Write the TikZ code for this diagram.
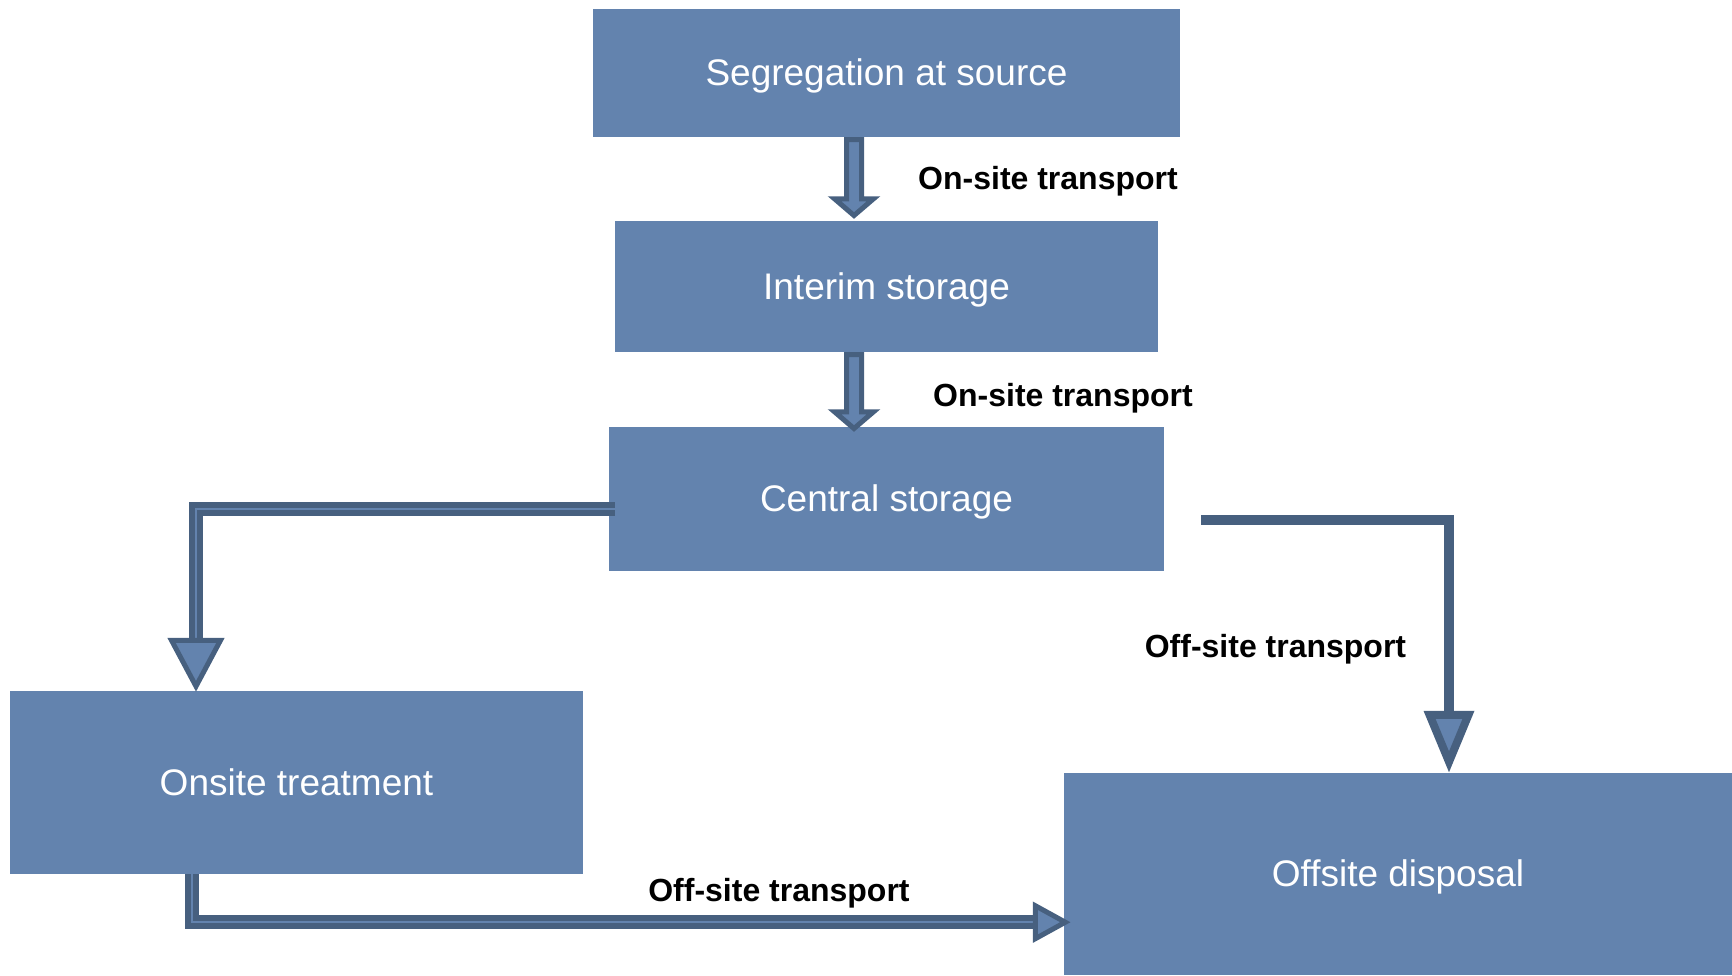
\documentclass[tikz,border=0pt]{standalone}
\usepackage{fontspec}
\setmainfont{Liberation Sans}
\usetikzlibrary{calc}
\definecolor{boxfill}{RGB}{99,131,174}
\definecolor{arrowdark}{RGB}{71,96,127}
\tikzset{
  box/.style={rectangle, fill=boxfill, inner sep=0pt, text=white,
    text height=30pt, text depth=5pt,
    font=\fontsize{37}{44}\selectfont},
  lbl/.style={inner sep=0pt, text=black, text height=27pt, text depth=4pt,
    font=\fontsize{32}{38}\selectfont\bfseries},
  blockarrow/.style={draw=arrowdark, fill=boxfill, line width=5pt, miter limit=20},
  dblline/.style={draw=arrowdark, line width=6pt, double=boxfill, double distance=2pt},
  headtri/.style={draw=arrowdark, fill=boxfill, line width=5pt, miter limit=20},
  solidline/.style={draw=arrowdark, line width=10pt},
  headthick/.style={draw=arrowdark, fill=boxfill, line width=8pt, miter limit=20}
}
\newcommand\blockdown[2]{%
  \path[blockarrow] let \p1=(#1), \p2=(#2) in
    (\x1-7.5pt,\y1-2.5pt) -- (\x1-7.5pt,\y2+20pt) -- (\x1-19.5pt,\y2+20pt)
    -- (\x1,\y2+3.3pt) -- (\x1+19.5pt,\y2+20pt) -- (\x1+7.5pt,\y2+20pt)
    -- (\x1+7.5pt,\y1-2.5pt) -- cycle;}
\begin{document}
\begin{tikzpicture}[x=1pt,y=-1pt]
\useasboundingbox (0,0) rectangle (1732,975);
% boxes
\node[box, minimum width=587pt, minimum height=128pt] (seg) at (886.5,73) {Segregation at source};
\node[box, minimum width=543pt, minimum height=131pt] (inter) at (886.5,286.5) {Interim storage};
\node[box, minimum width=555pt, minimum height=144pt] (central) at (886.5,499) {Central storage};
\node[box, minimum width=573pt, minimum height=183pt] (onsite) at (296.5,782.5) {Onsite treatment};
\node[box, minimum width=668pt, minimum height=202pt] (offsite) at (1398,874) {Offsite disposal};
% labels
\node[lbl] (l1) at (1048,178) {On-site transport};
\node[lbl] (l2) at (1063,395) {On-site transport};
\node[lbl] (l3) at (1275.5,646) {Off-site transport};
\node[lbl] (l4) at (779,890) {Off-site transport};
% block arrows
\coordinate (a1s) at ([xshift=-32.5pt]seg.south);
\coordinate (a1e) at ([yshift=2pt]a1s |- inter.north);
\blockdown{a1s}{a1e}
\coordinate (a2s) at ([xshift=-32.5pt]inter.south);
\coordinate (a2e) at ([yshift=-5pt]a2s |- central.north);
\blockdown{a2s}{a2e}
% left elbow arrow
\coordinate (e1s) at ([xshift=6pt,yshift=-10pt]central.west);
\coordinate (e1t) at ([xshift=-100.5pt,yshift=-1pt]onsite.north);
\path[dblline] let \p1=(e1t) in
  (e1s) -- (e1s -| e1t) -- (\x1,\y1+51.5pt);
\path[headtri] let \p1=(e1t) in
  (\x1-24.5pt,\y1+51.5pt) -- (\x1+24.5pt,\y1+51.5pt) -- (\x1,\y1+5.5pt) -- cycle;
% right elbow arrow
\coordinate (e2s) at ([xshift=37pt,yshift=-21pt]central.east);
\coordinate (e2t) at ([xshift=51pt]offsite.north);
\path[solidline] let \p1=(e2t) in
  (e2s) -- (e2s -| e2t) -- (\x1,\y1+58pt);
\path[headthick] let \p1=(e2t) in
  (\x1-19.5pt,\y1+58pt) -- (\x1+19.5pt,\y1+58pt) -- (\x1,\y1+11pt) -- cycle;
% bottom arrow
\coordinate (b1s) at ([xshift=-104.5pt]onsite.south);
\coordinate (b1c) at ([yshift=-48pt]b1s);
\coordinate (b1t) at ($(b1c -| offsite.west)+(7,0)$);
\path[dblline] let \p1=(b1t) in
  (b1s) -- (b1c) -- (\x1-35.5pt,\y1);
\path[headtri] let \p1=(b1t) in
  (\x1-35.5pt,\y1-16.5pt) -- (\x1-35.5pt,\y1+16.5pt) -- (\x1-5.5pt,\y1) -- cycle;
\end{tikzpicture}
\end{document}
